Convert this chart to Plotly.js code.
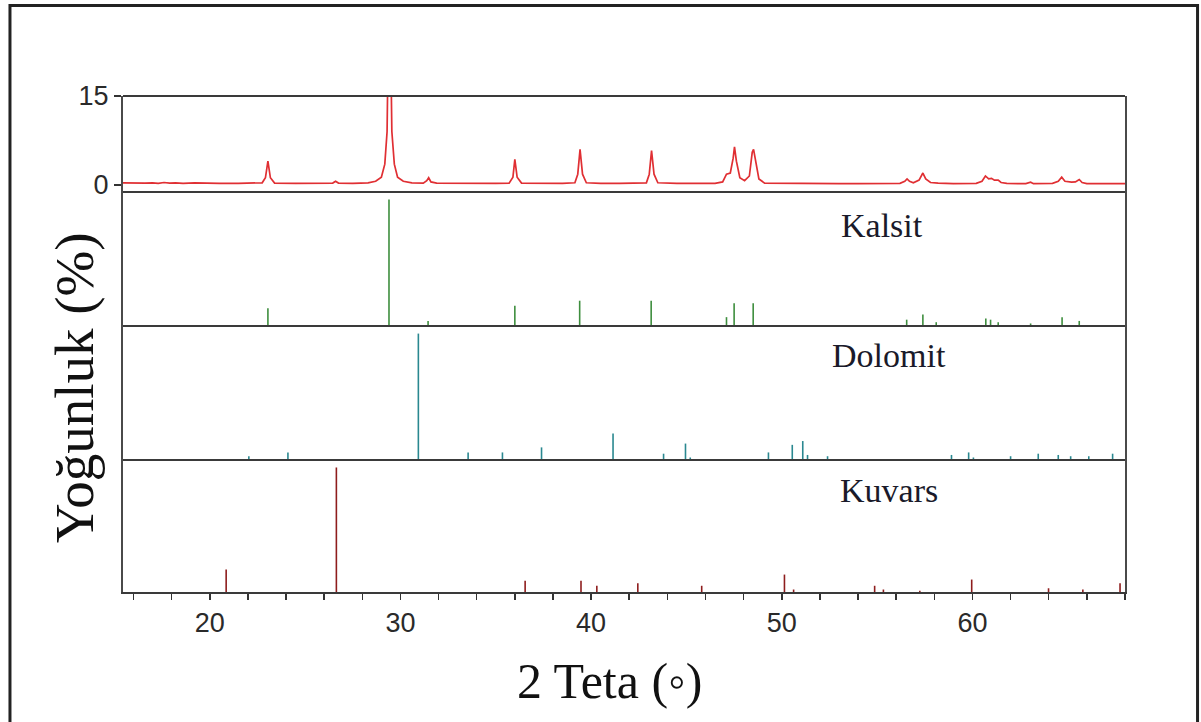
<!DOCTYPE html>
<html>
<head>
<meta charset="utf-8">
<script src="https://cdn.plot.ly/plotly-3.0.1.min.js"></script>
<style>html,body{margin:0;padding:0;background:#fff;}#chart{width:1201px;height:722px;}</style>
</head>
<body>
<div id="chart"></div>
<script>
const patternX = [15.45,16.0,16.6,17.0,17.3,17.6,17.9,18.2,18.6,19.2,19.6,20.5,21.5,22.5,22.75,22.92,23.05,23.18,23.4,24.5,25.5,26.45,26.6,26.75,27.5,28.3,28.7,29.0,29.18,29.3,29.42,29.55,29.68,29.85,30.15,30.6,31.2,31.38,31.48,31.6,31.9,33,34,35.0,35.7,35.9,36.0,36.12,36.35,37.5,38.5,39.15,39.3,39.42,39.55,39.75,40.5,41.5,42.5,42.9,43.05,43.17,43.3,43.5,44.5,45.5,46.5,46.9,47.1,47.3,47.45,47.52,47.62,47.8,48.05,48.3,48.45,48.52,48.62,48.8,49.1,50,51,52,53,54,55,56.2,56.45,56.57,56.7,56.9,57.2,57.4,57.55,57.8,58.2,59.0,60.2,60.5,60.68,60.85,61.0,61.15,61.35,61.5,61.8,62.8,63.05,63.2,64.2,64.5,64.68,64.85,65.2,65.4,65.6,65.75,66.0,67.0,68.0];
const patternY = [0.35,0.3,0.3,0.35,0.25,0.4,0.3,0.35,0.25,0.35,0.3,0.25,0.25,0.25,0.35,1.2,4.0,1.2,0.3,0.25,0.25,0.3,0.6,0.3,0.25,0.35,0.6,1.3,3.5,9,40,9,3.5,1.3,0.6,0.35,0.3,0.7,1.2,0.5,0.3,0.25,0.25,0.25,0.3,1.3,4.3,1.3,0.3,0.25,0.25,0.35,1.8,6.0,1.8,0.35,0.25,0.25,0.25,0.35,1.8,5.8,1.8,0.35,0.25,0.25,0.25,0.5,1.8,2.0,4.5,6.4,4.0,1.2,0.7,1.5,5.5,6.0,4.0,1.0,0.3,0.25,0.25,0.2,0.2,0.2,0.2,0.25,0.6,1.0,0.6,0.35,0.8,2.0,1.0,0.4,0.3,0.2,0.25,0.6,1.5,1.0,1.1,0.8,0.8,0.4,0.25,0.2,0.45,0.2,0.25,0.6,1.3,0.6,0.45,0.5,0.9,0.4,0.2,0.2,0.2];

// Reference stick patterns (relative intensity, %)
const kalsitPos = [23.05,29.4,31.45,36.0,39.4,43.15,47.1,47.5,48.5,56.55,57.4,58.1,60.7,60.95,61.35,63.05,64.7,65.6];
const kalsitInt = [14,100,4,16,20,20,7,18,18,5,9,3,6,5,3,2,7,4];

const dolomitPos = [22.05,24.1,30.94,33.55,35.35,37.4,41.15,43.8,44.95,45.2,49.3,50.55,51.1,51.35,52.4,58.9,59.8,60.05,62.0,63.45,64.5,65.15,66.1,67.35];
const dolomitInt = [3,6,100,6,6,10,21,5,13,2,6,12,15,4,3,4,6,2,3,5,4,3,3,5];

const kuvarsPos = [20.86,26.64,36.54,39.47,40.3,42.45,45.8,50.14,50.62,54.87,55.33,57.24,59.96,63.99,65.79,67.74];
const kuvarsInt = [18,100,9,9,5,7,5,14,2,5,2,1,10,3,2,7];

const phaseNames = ['Kalsit','Dolomit','Kuvars'];
const xTickVals = [20,30,40,50,60];
const xTickText = ['20','30','40','50','60'];

function stems(pos, ints) {
  const xs = [], ys = [];
  for (let i = 0; i < pos.length; i++) {
    xs.push(pos[i], pos[i], null);
    ys.push(0, ints[i], null);
  }
  return {x: xs, y: ys};
}

const sK = stems(kalsitPos, kalsitInt);
const sD = stems(dolomitPos, dolomitInt);
const sQ = stems(kuvarsPos, kuvarsInt);

const traces = [
  {x: patternX, y: patternY, type: 'scatter', mode: 'lines', xaxis: 'x', yaxis: 'y',
   line: {color: '#e02f33', width: 1.7}, name: 'Numune'},
  {x: sK.x, y: sK.y, type: 'scatter', mode: 'lines', xaxis: 'x', yaxis: 'y2',
   line: {color: '#3e8e3e', width: 1.6}, name: phaseNames[0]},
  {x: sD.x, y: sD.y, type: 'scatter', mode: 'lines', xaxis: 'x', yaxis: 'y3',
   line: {color: '#2a8890', width: 1.6}, name: phaseNames[1]},
  {x: sQ.x, y: sQ.y, type: 'scatter', mode: 'lines', xaxis: 'x', yaxis: 'y4',
   line: {color: '#8e1d1d', width: 1.6}, name: phaseNames[2]}
];

const axisLine = '#4a4a4a';
const stickY = {
  range: [0, 106], showline: true, mirror: true, linecolor: axisLine, linewidth: 2,
  showticklabels: false, ticks: '', showgrid: false, zeroline: false, anchor: 'x', fixedrange: true
};

// panel boundaries in paper units
const panelEdges = [1, 0.8065, 0.5363, 0.2661];

const shapes = panelEdges.map(function (v) {
  return {type: 'line', xref: 'paper', yref: 'paper', x0: 0, x1: 1, y0: v, y1: v,
          line: {color: '#3a3a3a', width: 2}, layer: 'above'};
});
shapes.push({type: 'rect', xref: 'paper', yref: 'paper', x0: -0.1128, x1: 1.0724, y0: -0.27, y1: 1.1825,
             line: {color: '#222', width: 3}, fillcolor: 'rgba(0,0,0,0)'});

const layout = {
  width: 1201, height: 722,
  margin: {l: 123, r: 76, t: 96, b: 130},
  paper_bgcolor: '#ffffff', plot_bgcolor: '#ffffff',
  showlegend: false,
  xaxis: {
    range: [15.45, 68.0], anchor: 'y4', showline: true, mirror: false,
    linecolor: '#3a3a3a', linewidth: 2, showgrid: false, zeroline: false,
    tickmode: 'array', tickvals: xTickVals, ticktext: xTickText,
    ticks: 'outside', ticklen: 6, tickwidth: 1.5, tickcolor: '#333',
    minor: {dtick: 2, tick0: 0, ticks: 'outside', ticklen: 6, tickwidth: 1.5, tickcolor: '#333', showgrid: false},
    tickfont: {family: 'Liberation Sans, Arial, sans-serif', size: 27, color: '#2a2a2a'}
  },
  yaxis: {
    domain: [0.8065, 1], range: [-1.2, 15], anchor: 'x',
    showline: true, mirror: true, linecolor: axisLine, linewidth: 2,
    tickmode: 'array', tickvals: [0, 15], ticktext: ['0', '15'],
    ticks: 'outside', ticklen: 7, tickwidth: 1.5, tickcolor: '#333',
    tickfont: {family: 'Liberation Sans, Arial, sans-serif', size: 27, color: '#2a2a2a'},
    showgrid: false, zeroline: false, fixedrange: true
  },
  yaxis2: Object.assign({}, stickY, {domain: [0.5363, 0.8065]}),
  yaxis3: Object.assign({}, stickY, {domain: [0.2661, 0.5363]}),
  yaxis4: Object.assign({}, stickY, {domain: [0, 0.2661]}),
  annotations: [
    {text: 'Yoğunluk (%)', textangle: -90, xref: 'paper', yref: 'paper',
     x: -0.049, y: 0.413, xanchor: 'center', yanchor: 'middle', showarrow: false,
     font: {family: 'Liberation Serif, Times New Roman, serif', size: 55, color: '#111'}},
    {text: '2 Teta (◦)', xref: 'paper', yref: 'paper',
     x: 0.486, y: -0.18, xanchor: 'center', yanchor: 'middle', showarrow: false,
     font: {family: 'Liberation Serif, Times New Roman, serif', size: 50, color: '#111'}},
    {text: phaseNames[0], xref: 'x', yref: 'paper', x: 55.25, y: 0.738,
     xanchor: 'center', yanchor: 'middle', showarrow: false,
     font: {family: 'Liberation Serif, Times New Roman, serif', size: 34, color: '#1a1a2a'}},
    {text: phaseNames[1], xref: 'x', yref: 'paper', x: 55.6, y: 0.476,
     xanchor: 'center', yanchor: 'middle', showarrow: false,
     font: {family: 'Liberation Serif, Times New Roman, serif', size: 34, color: '#1a1a2a'}},
    {text: phaseNames[2], xref: 'x', yref: 'paper', x: 55.6, y: 0.2056,
     xanchor: 'center', yanchor: 'middle', showarrow: false,
     font: {family: 'Liberation Serif, Times New Roman, serif', size: 34, color: '#1a1a2a'}}
  ],
  shapes: shapes
};

Plotly.newPlot('chart', traces, layout, {displayModeBar: false, staticPlot: true});
</script>
</body>
</html>
